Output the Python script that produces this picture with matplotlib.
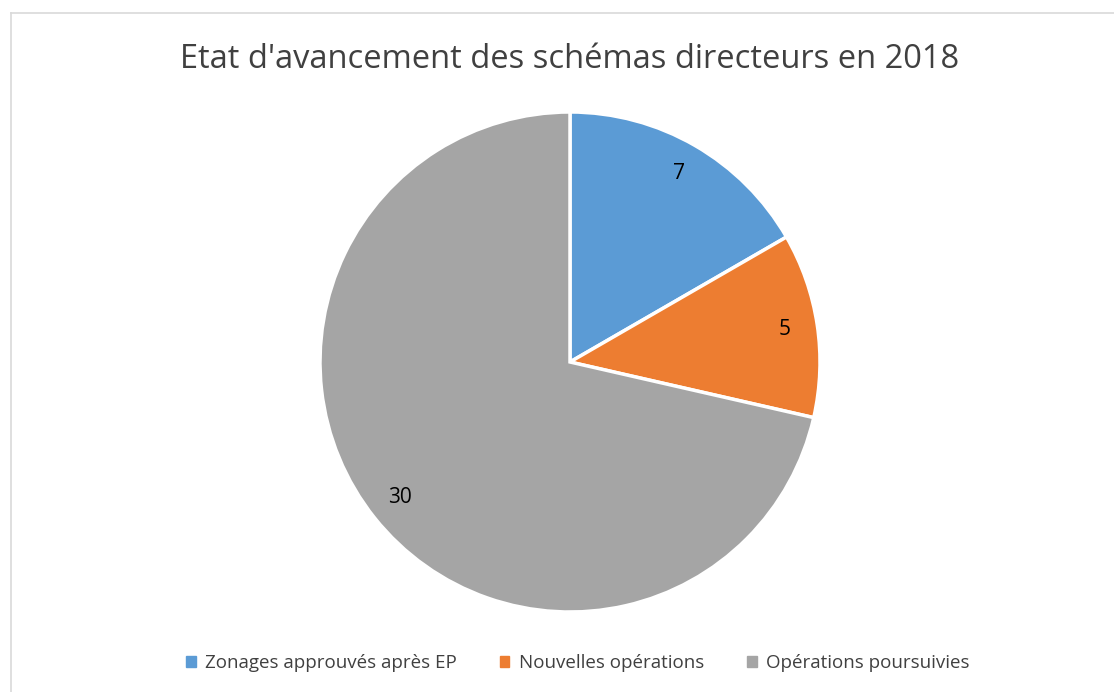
import matplotlib
matplotlib.use("Agg")
import matplotlib.pyplot as plt
from matplotlib.lines import Line2D

# Données du graphique
categories = ["Zonages approuvés après EP", "Nouvelles opérations", "Opérations poursuivies"]
valeurs = [7, 5, 30]
couleurs = ["#5B9BD5", "#ED7D31", "#A5A5A5"]
titre = "Etat d'avancement des schémas directeurs en 2018"

plt.rcParams['font.family'] = ['Open Sans', 'DejaVu Sans']

fig = plt.figure(figsize=(11.14, 6.92), dpi=100)
W, H = 1114, 692

# cadre gris (seulement haut et gauche visibles)
fig.add_artist(Line2D([11 / W, 11 / W], [0, 1 - 13 / H], transform=fig.transFigure, color="#D9D9D9", lw=1.2))
fig.add_artist(Line2D([11 / W, 1], [1 - 13 / H, 1 - 13 / H], transform=fig.transFigure, color="#D9D9D9", lw=1.2))

# camembert : centre (570, 362), rayon 250 px
r = 250
ax = fig.add_axes([(570 - r) / W, (H - 362 - r) / H, 2 * r / W, 2 * r / H])
wedges, texts = ax.pie(valeurs, colors=couleurs, startangle=90, counterclock=False,
                       labels=[str(v) for v in valeurs], labeldistance=0.87,
                       wedgeprops=dict(edgecolor="white", linewidth=2.5),
                       textprops=dict(fontsize=15, color="#000000"))
for t in texts:
    t.set_ha("center")
    t.set_va("center")
ax.set_xlim(-1, 1)
ax.set_ylim(-1, 1)
ax.set_aspect("equal")

fig.text(570 / W, 1 - 60 / H, titre, ha="center", va="center", fontsize=23.5, color="#404040")

# légende en bas
handles = [plt.Rectangle((0, 0), 1, 1, color=c) for c in couleurs]
fig.legend(handles, categories, loc="center", bbox_to_anchor=(578 / W, 1 - 663 / H), ncol=3,
           frameon=False, fontsize=13.5, handlelength=0.5, handleheight=0.5,
           handletextpad=0.5, columnspacing=2.3, labelcolor="#404040")

fig.savefig("out.png", dpi=100)
